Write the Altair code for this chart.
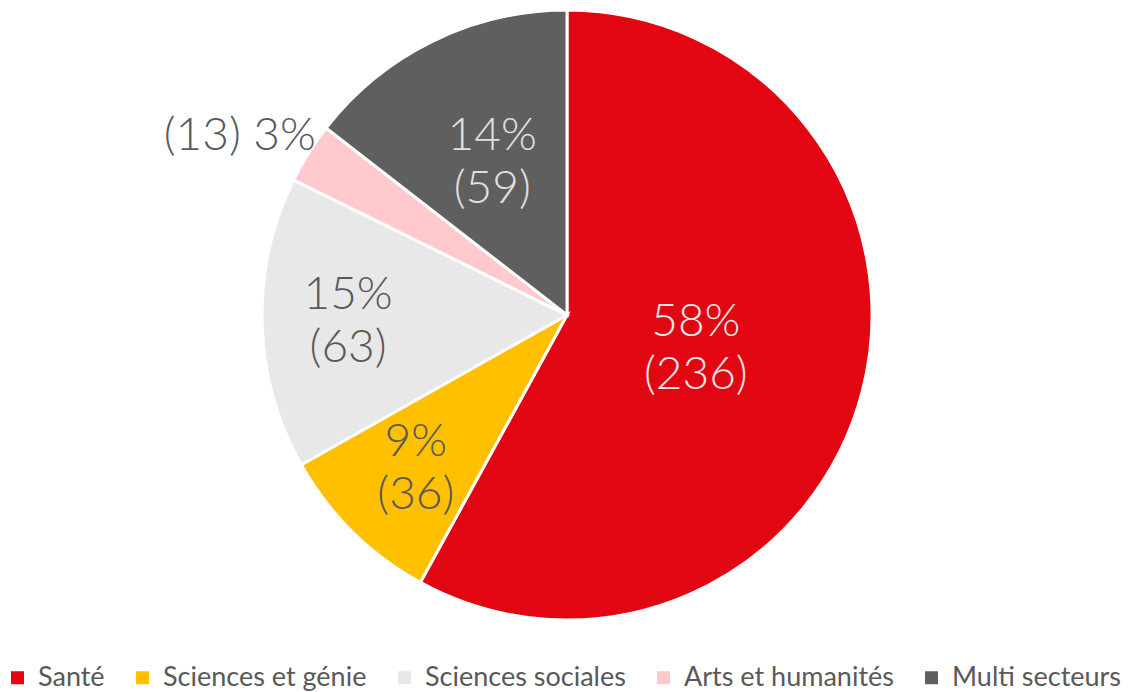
import altair as alt
import pandas as pd

categories = ["Santé", "Sciences et génie", "Sciences sociales", "Arts et humanités", "Multi secteurs"]
counts = [236, 36, 63, 13, 59]
colors = ["#E20613", "#FFC000", "#E8E8E8", "#FFC9CE", "#5F5F5F"]
label_colors = ["#E6E6E6", "#595959", "#595959", "#595959", "#E0E0E0"]
label_radii = [133, 215, 219, 372, 170]

total = sum(counts)
pcts = [round(c * 100 / total) for c in counts]
labels = []
for cat, c, p in zip(categories, counts, pcts):
    if cat == "Arts et humanités":
        labels.append(f"({c}) {p}%")
    else:
        labels.append(f"{p}%\n({c})")

df = pd.DataFrame({
    "cat": categories,
    "value": counts,
    "order": list(range(len(categories))),
    "label": labels,
    "lcolor": label_colors,
    "lr": label_radii,
})

CX, CY = 559, 307

arcs = alt.Chart(df).mark_arc(outerRadius=305, stroke="white", strokeWidth=3).encode(
    theta=alt.Theta("value:Q", stack=True),
    order=alt.Order("order:Q"),
    x=alt.value(CX),
    y=alt.value(CY),
    color=alt.Color(
        "cat:N",
        scale=alt.Scale(domain=categories, range=colors),
        sort=categories,
        legend=alt.Legend(
            title=None,
            orient="none",
            direction="horizontal",
            legendX=-4,
            legendY=656,
            symbolType="square",
            symbolSize=169,
            symbolStrokeWidth=0,
            labelFont="Lato",
            labelFontSize=27,
            labelColor="#595959",
            columnPadding=24,
            symbolOffset=0,
            labelOffset=7,
            labelLimit=400,
        ),
    ),
)

text_base = alt.Chart(df).transform_joinaggregate(
    total="sum(value)"
).transform_window(
    cum="sum(value)", sort=[alt.SortField("order")], frame=[None, 0]
).transform_calculate(
    mid="(datum.cum - datum.value / 2) / datum.total * 2 * PI"
).encode(
    x=alt.value(CX),
    y=alt.value(CY),
    theta=alt.Theta("mid:Q", scale=None),
    radius=alt.Radius("lr:Q", scale=None),
    text="label:N",
    color=alt.Color("lcolor:N", scale=None),
)

text_style = dict(font="Lato", fontWeight=300, fontSize=46, lineBreak="\n",
                  lineHeight=53, align="center", baseline="middle")

text_in = text_base.transform_filter(
    alt.datum.cat != "Arts et humanités"
).mark_text(dy=-26, **text_style)

text_out = text_base.transform_filter(
    alt.datum.cat == "Arts et humanités"
).mark_text(dx=-12, dy=18, **text_style)

chart = alt.layer(arcs, text_in, text_out).resolve_scale(theta="independent").properties(
    width=1123, height=684, autosize=alt.AutoSizeParams(type="none"), padding=0
).configure_view(stroke=None)

chart.save("out.html", embed_options={"renderer": "svg", "actions": False})
